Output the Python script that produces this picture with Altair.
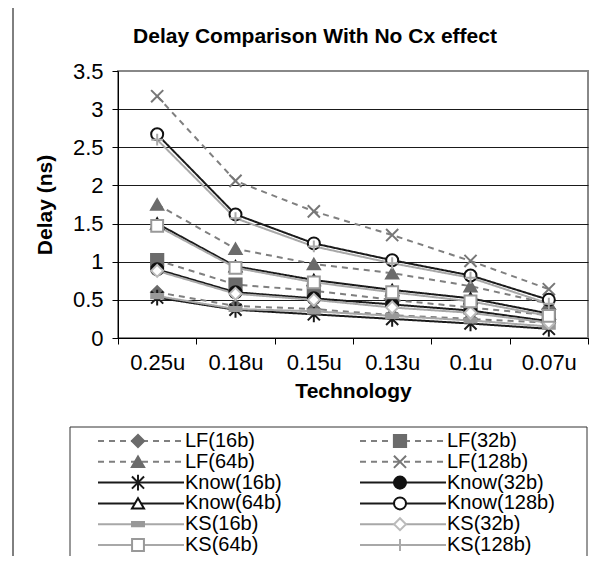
import altair as alt
import pandas as pd

# ---------------- data ----------------
title_text = "Delay Comparison With No Cx effect"
tech = ["0.25u", "0.18u", "0.15u", "0.13u", "0.1u", "0.07u"]
series_names = ["LF(16b)", "LF(32b)", "LF(64b)", "LF(128b)",
                "Know(16b)", "Know(32b)", "Know(64b)", "Know(128b)",
                "KS(16b)", "KS(32b)", "KS(64b)", "KS(128b)"]

lf16 = [0.60, 0.42, 0.38, 0.30, 0.25, 0.20]
lf32 = [1.02, 0.70, 0.62, 0.50, 0.40, 0.30]
lf64 = [1.75, 1.17, 0.97, 0.85, 0.68, 0.45]
lf128 = [3.17, 2.06, 1.66, 1.35, 1.01, 0.64]
know16 = [0.53, 0.37, 0.31, 0.25, 0.19, 0.12]
know32 = [0.90, 0.60, 0.52, 0.44, 0.36, 0.22]
know64 = [1.50, 0.94, 0.76, 0.63, 0.52, 0.32]
know128 = [2.67, 1.62, 1.24, 1.02, 0.82, 0.50]
ks16 = [0.55, 0.38, 0.35, 0.29, 0.23, 0.15]
ks32 = [0.88, 0.58, 0.50, 0.40, 0.33, 0.20]
ks64 = [1.47, 0.92, 0.73, 0.60, 0.48, 0.29]
ks128 = [2.60, 1.57, 1.20, 0.98, 0.79, 0.45]

y_ticks = [0, 0.5, 1, 1.5, 2, 2.5, 3, 3.5]

all_values = [lf16, lf32, lf64, lf128, know16, know32, know64, know128,
              ks16, ks32, ks64, ks128]

rows = []
for name, vals in zip(series_names, all_values):
    for t, v in zip(tech, vals):
        rows.append({"series": name, "tech": t, "delay": v})
df = pd.DataFrame(rows)

leg_df = pd.DataFrame({
    "series": series_names,
    "col": [i % 2 for i in range(len(series_names))],
    "row": [i // 2 for i in range(len(series_names))],
})

# ---------------- styles ----------------
FONT = "Liberation Sans"
X_PATH = "M-1,-1L1,1M-1,1L1,-1"
AST_PATH = "M-1,-1L1,1M-1,1L1,-1M0,-1.3L0,1.3"
PLUS_PATH = "M-1,0L1,0M0,-1L0,1"
BAR_PATH = "M-1,-0.35L1,-0.35L1,0.35L-1,0.35Z"

line_colors = ["#7f7f7f"] * 4 + ["#1a1a1a"] * 4 + ["#a8a8a8"] * 4
dashes = [[6, 5]] * 4 + [[1, 0]] * 4 + [[1, 0]] * 4
shapes = ["diamond", "square", "triangle-up", X_PATH,
          AST_PATH, "circle", "triangle-up", "circle",
          BAR_PATH, "diamond", "square", PLUS_PATH]
fills = ["#6b6b6b", "#6b6b6b", "#6b6b6b", "transparent",
         "transparent", "#111111", "#ffffff", "#ffffff",
         "#999999", "#ffffff", "#ffffff", "transparent"]
strokes = ["#6b6b6b", "#6b6b6b", "#6b6b6b", "#777777",
           "#1a1a1a", "#111111", "#111111", "#111111",
           "#999999", "#bbbbbb", "#999999", "#aaaaaa"]
sizes = [150, 140, 170, 190, 170, 130, 150, 130, 140, 120, 120, 170]

color_enc = alt.Color("series:N", scale=alt.Scale(domain=series_names, range=line_colors), legend=None)
dash_enc = alt.StrokeDash("series:N", scale=alt.Scale(domain=series_names, range=dashes), legend=None)
shape_enc = alt.Shape("series:N", scale=alt.Scale(domain=series_names, range=shapes), legend=None)
fill_enc = alt.Fill("series:N", scale=alt.Scale(domain=series_names, range=fills), legend=None)
stroke_enc = alt.Stroke("series:N", scale=alt.Scale(domain=series_names, range=strokes), legend=None)
size_enc = alt.Size("series:N", scale=alt.Scale(domain=series_names, range=sizes), legend=None)

x_enc = alt.X(
    "tech:O", sort=tech, bandPosition=0.5,
    scale=alt.Scale(type="band", domain=tech, paddingInner=0, paddingOuter=0),
    axis=alt.Axis(title="Technology", labelAngle=0, tickBand="extent", tickSize=6,
                  labelPadding=8, titlePadding=7, grid=False),
)
y_enc = alt.Y(
    "delay:Q",
    scale=alt.Scale(domain=[0, 3.5], nice=False, zero=True),
    axis=alt.Axis(title="Delay (ns)", values=y_ticks, format=".1~f", tickSize=6,
                  labelPadding=9, titlePadding=17, grid=True,
                  gridColor=alt.condition("datum.value >= 3.5", alt.value("#888888"), alt.value("#1a1a1a"))),
)

base = alt.Chart(df)
lines = base.mark_line(strokeWidth=2).encode(x=x_enc, y=y_enc, color=color_enc, strokeDash=dash_enc)
points = base.mark_point(opacity=1, strokeWidth=2).encode(
    x=x_enc, y=y_enc, shape=shape_enc, fill=fill_enc, stroke=stroke_enc, size=size_enc)

one = pd.DataFrame({"k": [0]})
frame = alt.Chart(one).mark_rect(fillOpacity=0, stroke="#000000", strokeWidth=1).encode(
    x=alt.value(-105), x2=alt.value(493), y=alt.value(-64), y2=alt.value(600))
box = alt.Chart(one).mark_rect(fillOpacity=0, stroke="#333333", strokeWidth=1).encode(
    x=alt.value(-48), x2=alt.value(469), y=alt.value(356), y2=alt.value(486))
title = alt.Chart(one).mark_text(font=FONT, fontSize=21, fontWeight="bold", color="#000000",
                                 align="center", baseline="alphabetic").encode(
    text=alt.value(title_text), x=alt.value(197), y=alt.value(-28))

main = alt.layer(frame, box, title, lines, points)

lx = alt.X("col:Q", scale=alt.Scale(domain=[0, 1], range=[20, 282], nice=False, zero=False), axis=None)
ly = alt.Y("row:Q", scale=alt.Scale(domain=[0, 5], range=[370, 474], nice=False, zero=False), axis=None)
lbase = alt.Chart(leg_df)
leg_rule = lbase.mark_rule(strokeWidth=2, xOffset=-40, x2Offset=46).encode(
    x=lx, x2=alt.X2("col:Q"), y=ly, color=color_enc, strokeDash=dash_enc)
leg_pts = lbase.mark_point(opacity=1, strokeWidth=2).encode(
    x=lx, y=ly, shape=shape_enc, fill=fill_enc, stroke=stroke_enc, size=size_enc)
leg_txt = lbase.mark_text(align="left", baseline="middle", dx=47, fontSize=20, font=FONT,
                          color="#000000").encode(x=lx, y=ly, text="series:N")
legend = alt.layer(leg_rule, leg_pts, leg_txt)

chart = alt.layer(main, legend).resolve_scale(x="independent", y="independent").properties(
    width=470, height=267, autosize="none",
    padding={"left": 110, "top": 63, "right": 17, "bottom": 218},
).configure_view(stroke="#888888", strokeWidth=2).configure_axis(
    labelFont=FONT, titleFont=FONT, labelFontSize=22, titleFontSize=21, titleFontWeight="bold",
    labelColor="#000000", titleColor="#000000", domainColor="#000000", tickColor="#000000",
    domainWidth=1, tickWidth=1,
)

chart.save("out.html", embed_options={"renderer": "svg", "actions": False})
